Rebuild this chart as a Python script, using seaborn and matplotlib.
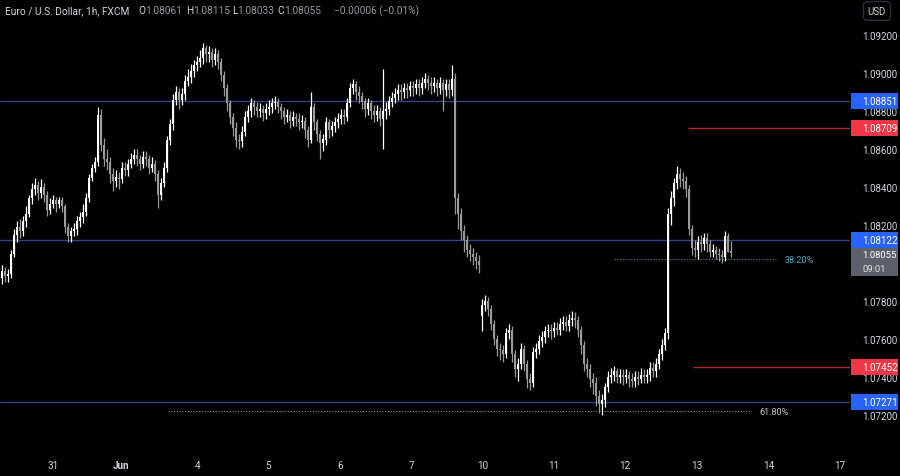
import numpy as np
import matplotlib
matplotlib.use("Agg")
import matplotlib.pyplot as plt
from matplotlib.patches import Rectangle
import seaborn as sns

# ---------------- data (EUR/USD, 1h candles) ----------------
closes = [
    1.0796, 1.0793, 1.0794, 1.0805, 1.0815, 1.0819, 1.0817, 1.0822, 1.0826, 1.0834,
    1.0839, 1.0841, 1.0837, 1.0840, 1.0836, 1.0828, 1.0831, 1.0833, 1.0831, 1.0833,
    1.0830, 1.0819, 1.0814, 1.0817, 1.0818, 1.0822, 1.0824, 1.0827, 1.0834, 1.0845,
    1.0850, 1.0853, 1.0878, 1.0862, 1.0855, 1.0853, 1.0847, 1.0843, 1.0845, 1.0844,
    1.0850, 1.0849, 1.0852, 1.0855, 1.0857, 1.0855, 1.0852, 1.0856, 1.0855, 1.0850,
    1.0852, 1.0847, 1.0836, 1.0842, 1.0850, 1.0865, 1.0873, 1.0886, 1.0890, 1.0886,
    1.0889, 1.0896, 1.0898, 1.0901, 1.0904, 1.0906, 1.0908, 1.0913, 1.0910, 1.0911,
    1.0907, 1.0910, 1.0906, 1.0899, 1.0892, 1.0884, 1.0877, 1.0871, 1.0865, 1.0864,
    1.0869, 1.0877, 1.0880, 1.0884, 1.0882, 1.0880, 1.0881, 1.0879, 1.0881, 1.0882,
    1.0884, 1.0885, 1.0882, 1.0880, 1.0877, 1.0878, 1.0875, 1.0877, 1.0876, 1.0874,
    1.0875, 1.0870, 1.0865, 1.0882, 1.0874, 1.0868, 1.0863, 1.0865, 1.0874, 1.0870,
    1.0872, 1.0874, 1.0876, 1.0878, 1.0877, 1.0884, 1.0892, 1.0894, 1.0890, 1.0888,
    1.0885, 1.0881, 1.0884, 1.0880, 1.0878, 1.0880, 1.0876, 1.0880, 1.0881, 1.0885,
    1.0887, 1.0889, 1.0891, 1.0890, 1.0892, 1.0891, 1.0893, 1.0892, 1.0894, 1.0892,
    1.0895, 1.0897, 1.0895, 1.0893, 1.0895, 1.0892, 1.0895, 1.0891, 1.0894, 1.0891,
    1.0897, 1.0834, 1.0826, 1.0817, 1.0812, 1.0807, 1.0805, 1.0803, 1.0801, 1.0799,
    1.0778, 1.0780, 1.0776, 1.0768, 1.0760, 1.0755, 1.0754, 1.0752, 1.0763, 1.0765,
    1.0752, 1.0744, 1.0747, 1.0755, 1.0747, 1.0739, 1.0737, 1.0753, 1.0755, 1.0759,
    1.0761, 1.0764, 1.0765, 1.0764, 1.0766, 1.0765, 1.0768, 1.0769, 1.0767, 1.0770,
    1.0771, 1.0770, 1.0765, 1.0757, 1.0747, 1.0744, 1.0739, 1.0737, 1.0730, 1.0726,
    1.0728, 1.0735, 1.0740, 1.0741, 1.0743, 1.0740, 1.0741, 1.0740, 1.0741, 1.0739,
    1.0738, 1.0740, 1.0739, 1.0741, 1.0740, 1.0741, 1.0745, 1.0743, 1.0747, 1.0752,
    1.0757, 1.0763, 1.0826, 1.0834, 1.0842, 1.0847, 1.0844, 1.0843, 1.0839, 1.0818,
    1.0808, 1.0807, 1.0811, 1.0810, 1.0813, 1.0810, 1.0806, 1.0807, 1.0805, 1.0804,
    1.0803, 1.0814, 1.0806, 1.08055,
]
highs = [
    1.0799, 1.0798, 1.0797, 1.0807, 1.0818, 1.0822, 1.0823, 1.0825, 1.0830, 1.0836,
    1.0842, 1.0845, 1.0843, 1.0844, 1.0842, 1.0838, 1.0834, 1.0836, 1.0835, 1.0835,
    1.0835, 1.0831, 1.0821, 1.0819, 1.0821, 1.0825, 1.0827, 1.0831, 1.0837, 1.0847,
    1.0852, 1.0856, 1.0882, 1.0881, 1.0866, 1.0860, 1.0856, 1.0850, 1.0849, 1.0848,
    1.0853, 1.0853, 1.0855, 1.0858, 1.0860, 1.0860, 1.0857, 1.0859, 1.0859, 1.0857,
    1.0856, 1.0854, 1.0849, 1.0845, 1.0853, 1.0867, 1.0876, 1.0889, 1.0893, 1.0892,
    1.0892, 1.0899, 1.0902, 1.0905, 1.0907, 1.0909, 1.0912, 1.0916, 1.0915, 1.0914,
    1.0913, 1.0913, 1.0912, 1.0908, 1.0901, 1.0894, 1.0886, 1.0879, 1.0874, 1.0868,
    1.0872, 1.0880, 1.0883, 1.0887, 1.0886, 1.0885, 1.0884, 1.0883, 1.0884, 1.0886,
    1.0887, 1.0888, 1.0887, 1.0884, 1.0882, 1.0881, 1.0880, 1.0880, 1.0879, 1.0879,
    1.0878, 1.0877, 1.0872, 1.0890, 1.0884, 1.0876, 1.0870, 1.0868, 1.0877, 1.0876,
    1.0875, 1.0877, 1.0879, 1.0881, 1.0881, 1.0887, 1.0895, 1.0897, 1.0896, 1.0893,
    1.0890, 1.0887, 1.0887, 1.0886, 1.0883, 1.0883, 1.0882, 1.0902, 1.0885, 1.0888,
    1.0890, 1.0892, 1.0894, 1.0894, 1.0895, 1.0895, 1.0896, 1.0896, 1.0897, 1.0897,
    1.0898, 1.0900, 1.0899, 1.0898, 1.0898, 1.0897, 1.0898, 1.0897, 1.0897, 1.0897,
    1.0904, 1.0900, 1.0837, 1.0829, 1.0820, 1.0815, 1.0810, 1.0808, 1.0806, 1.0804,
    1.0781, 1.0783, 1.0782, 1.0778, 1.0770, 1.0762, 1.0758, 1.0757, 1.0766, 1.0768,
    1.0767, 1.0754, 1.0750, 1.0758, 1.0757, 1.0749, 1.0742, 1.0756, 1.0758, 1.0762,
    1.0764, 1.0767, 1.0768, 1.0768, 1.0769, 1.0769, 1.0771, 1.0772, 1.0772, 1.0773,
    1.0775, 1.0774, 1.0772, 1.0767, 1.0759, 1.0750, 1.0747, 1.0742, 1.0740, 1.0733,
    1.0731, 1.0737, 1.0743, 1.0745, 1.0746, 1.0745, 1.0744, 1.0744, 1.0744, 1.0743,
    1.0742, 1.0743, 1.0743, 1.0745, 1.0744, 1.0744, 1.0748, 1.0748, 1.0750, 1.0755,
    1.0760, 1.0766, 1.0829, 1.0838, 1.0845, 1.0851, 1.0850, 1.0848, 1.0846, 1.0841,
    1.0820, 1.0812, 1.0814, 1.0815, 1.0816, 1.0816, 1.0812, 1.0810, 1.0809, 1.0808,
    1.0807, 1.0817, 1.0816, 1.08115,
]
lows = [
    1.0789, 1.0790, 1.0790, 1.0792, 1.0803, 1.0811, 1.0813, 1.0814, 1.0819, 1.0824,
    1.0831, 1.0836, 1.0833, 1.0834, 1.0832, 1.0825, 1.0826, 1.0829, 1.0827, 1.0829,
    1.0827, 1.0816, 1.0811, 1.0811, 1.0814, 1.0815, 1.0819, 1.0821, 1.0825, 1.0832,
    1.0843, 1.0848, 1.0851, 1.0859, 1.0851, 1.0849, 1.0842, 1.0838, 1.0840, 1.0839,
    1.0842, 1.0846, 1.0846, 1.0850, 1.0852, 1.0851, 1.0849, 1.0850, 1.0851, 1.0847,
    1.0848, 1.0843, 1.0829, 1.0833, 1.0840, 1.0848, 1.0862, 1.0870, 1.0883, 1.0881,
    1.0883, 1.0886, 1.0893, 1.0895, 1.0898, 1.0901, 1.0903, 1.0905, 1.0906, 1.0906,
    1.0903, 1.0904, 1.0902, 1.0896, 1.0888, 1.0880, 1.0873, 1.0867, 1.0861, 1.0860,
    1.0861, 1.0867, 1.0874, 1.0877, 1.0878, 1.0877, 1.0877, 1.0875, 1.0876, 1.0878,
    1.0879, 1.0881, 1.0879, 1.0876, 1.0873, 1.0874, 1.0871, 1.0872, 1.0872, 1.0870,
    1.0871, 1.0866, 1.0861, 1.0863, 1.0870, 1.0864, 1.0855, 1.0859, 1.0862, 1.0866,
    1.0867, 1.0869, 1.0871, 1.0873, 1.0873, 1.0875, 1.0882, 1.0889, 1.0886, 1.0884,
    1.0881, 1.0877, 1.0878, 1.0876, 1.0874, 1.0875, 1.0872, 1.0860, 1.0876, 1.0878,
    1.0882, 1.0884, 1.0886, 1.0886, 1.0887, 1.0887, 1.0888, 1.0888, 1.0889, 1.0888,
    1.0889, 1.0892, 1.0891, 1.0889, 1.0890, 1.0888, 1.0889, 1.0880, 1.0888, 1.0887,
    1.0888, 1.0826, 1.0818, 1.0812, 1.0806, 1.0803, 1.0801, 1.0799, 1.0797, 1.0795,
    1.0764, 1.0775, 1.0772, 1.0765, 1.0757, 1.0751, 1.0749, 1.0748, 1.0750, 1.0760,
    1.0748, 1.0740, 1.0738, 1.0744, 1.0743, 1.0734, 1.0733, 1.0735, 1.0750, 1.0752,
    1.0756, 1.0758, 1.0761, 1.0760, 1.0761, 1.0762, 1.0762, 1.0765, 1.0764, 1.0764,
    1.0767, 1.0766, 1.0761, 1.0752, 1.0743, 1.0740, 1.0735, 1.0731, 1.0725, 1.0721,
    1.0720, 1.0724, 1.0732, 1.0737, 1.0738, 1.0737, 1.0737, 1.0736, 1.0737, 1.0735,
    1.0735, 1.0735, 1.0736, 1.0737, 1.0737, 1.0737, 1.0738, 1.0740, 1.0740, 1.0744,
    1.0749, 1.0754, 1.0760, 1.0820, 1.0830, 1.0839, 1.0840, 1.0839, 1.0835, 1.0815,
    1.0804, 1.0803, 1.0802, 1.0806, 1.0807, 1.0806, 1.0803, 1.0803, 1.0802, 1.0801,
    1.0800, 1.0801, 1.0806, 1.08033,
]
first_open = 1.0792
gap_open_bar = 160          # Monday open after the weekend
gap_open = 1.0772
last_open = 1.08061

day_labels = ["31", "Jun", "4", "5", "6", "7", "10", "11", "12", "13", "14", "17"]
day_start_bar = [17.2, 39.8, 65.2, 88.8, 112.8, 136.5, 160.5, 184.2, 207.8, 231.8, 255.8, 279.5]

blue_levels = [1.08851, 1.08122, 1.07271]
red_levels = [1.08709, 1.07452]
red_level_start_bar = [228.8, 230.5]
fib_levels = [1.0802, 1.0722]
fib_labels = ["38.20%", "61.80%"]
fib_start_bar = [204.0, 55.5]
fib_end_bar = [258.0, 249.5]
# 1.08000 sits behind the last-price label on the price scale, so it is not shown
price_ticks = [1.072, 1.074, 1.076, 1.078, 1.082, 1.084, 1.086, 1.088, 1.090, 1.092]
last_price = 1.08055
countdown = "09:01"

# ---------------- style ----------------
sns.set_theme(style="dark", rc={"axes.facecolor": "black", "figure.facecolor": "black",
                                "axes.grid": False})
plt.rcParams["font.family"] = ["Roboto", "DejaVu Sans"]

TXT = "#d1d4dc"
UP = "#ffffff"
DOWN = "#9a9a9a"
BLUE_LINE = "#363f8c"
BLUE_BOX = "#2962ff"
RED_LINE = "#b0262f"
RED_BOX = "#f23645"

W, H = 900, 477
fig = plt.figure(figsize=(9, 4.77), dpi=100, facecolor="black")
plot_bottom_px = 449
ax = fig.add_axes([0, (H - plot_bottom_px) / H, 850 / W, plot_bottom_px / H])
ax.set_facecolor("black")

px_per_price = 19000.0
ytop = 1.092 + 36 / px_per_price
ybot = 1.092 - (plot_bottom_px - 36) / px_per_price
ax.set_ylim(ybot, ytop)
ax.set_xlim(-0.5, 850 / 3 - 0.5)

c = np.array(closes)
hi = np.array(highs)
lo = np.array(lows)
o = np.concatenate([[first_open], c[:-1]])   # hourly FX bars open at previous close
o[gap_open_bar] = gap_open
o[-1] = last_open
x = np.arange(len(c))
up = c >= o
cols = np.where(up, UP, DOWN)

# levels
for lvl in blue_levels:
    ax.axhline(lvl, color=BLUE_LINE, lw=1.0, zorder=1)
for lvl, xs in zip(red_levels, red_level_start_bar):
    ax.hlines(lvl, xs, 283, color=RED_LINE, lw=1.0, zorder=1)
fib_cols = ["#4a8fa3", "#9a9a9a"]
fib_txt_cols = ["#4fa8c8", "#c8c8c8"]
for lvl, lab, xs, xe, fc, tc in zip(fib_levels, fib_labels, fib_start_bar, fib_end_bar, fib_cols, fib_txt_cols):
    ax.hlines(lvl, xs, xe, color=fc, lw=0.8, linestyles=(0, (1, 1.5)), zorder=1)
    ax.text(xe + 3.2, lvl, lab, color=tc, fontsize=6.5, va="center", ha="left")

# candles
ax.vlines(x, lo, hi, colors=cols, lw=0.9, zorder=3)
body_low = np.minimum(o, c)
body_h = np.maximum(np.abs(c - o), 0.00004)
ax.bar(x, body_h, bottom=body_low, width=0.66, color=cols, linewidth=0, zorder=4)

for s in ax.spines.values():
    s.set_visible(False)
ax.yaxis.tick_right()
ax.set_yticks(price_ticks)
ax.set_yticklabels([f"{p:.5f}" for p in price_ticks])
ax.tick_params(axis="y", length=0, pad=9, labelsize=7, labelcolor=TXT)
ax.set_xticks(day_start_bar)
ax.set_xticklabels(day_labels)
ax.tick_params(axis="x", length=0, pad=9, labelsize=7.2, labelcolor=TXT)
for t in ax.get_xticklabels():
    if t.get_text() == "Jun":
        t.set_fontweight("bold")
ax.grid(False)

# price-scale labels (overlay axis)
ax2 = fig.add_axes([850 / W, (H - plot_bottom_px) / H, 50 / W, plot_bottom_px / H])
ax2.set_xlim(0, 50)
ax2.set_ylim(ybot, ytop)
ax2.axis("off")
ax2.patch.set_visible(False)
bh = 16 / px_per_price
for lvl in blue_levels:
    ax2.add_patch(Rectangle((0.5, lvl - bh / 2), 47.5, bh, color=BLUE_BOX, lw=0))
    ax2.text(12.5, lvl, f"{lvl:.5f}", color="white", fontsize=7, va="center", ha="left")
for lvl in red_levels:
    ax2.add_patch(Rectangle((0.5, lvl - bh / 2), 47.5, bh, color=RED_BOX, lw=0))
    ax2.text(12.5, lvl, f"{lvl:.5f}", color="white", fontsize=7, va="center", ha="left")
gtop = 1.092 - (248.5 - 36) / px_per_price
gbot = 1.092 - (276.5 - 36) / px_per_price
ax2.add_patch(Rectangle((0.5, gbot), 47.5, gtop - gbot, color="#5d606b", lw=0))
ax2.text(12.5, 1.092 - (255.5 - 36) / px_per_price, f"{last_price:.5f}", color="white",
         fontsize=6.8, va="center", ha="left")
ax2.text(12.5, 1.092 - (269.5 - 36) / px_per_price, countdown, color="#e0e0e0",
         fontsize=6.8, va="center", ha="left")

# header
def ftxt(px, py, s, **kw):
    fig.text(px / W, 1 - py / H, s, va="center", ha="left", **kw)

ftxt(5, 11, "Euro / U.S. Dollar, 1h, FXCM", color=TXT, fontsize=7.3)
vals_col = "#9598a1"
for lab, val, xp in [("O", "1.08061", 138), ("H", "1.08115", 186), ("L", "1.08033", 232), ("C", "1.08055", 277)]:
    ftxt(xp, 11, lab, color=TXT, fontsize=7.3)
    ftxt(xp + (7 if lab != "L" else 5.5), 11, val, color=vals_col, fontsize=7.3)
ftxt(334, 11, "\u22120.00006 (\u22120.01%)", color=vals_col, fontsize=7.3)

fig.text(877 / W, 1 - 12 / H, "USD", color=TXT, fontsize=7, ha="center", va="center",
         bbox=dict(boxstyle="round,pad=0.45,rounding_size=0.4", fc="black", ec="#2a2e39", lw=1))

fig.savefig("out.png", dpi=100, facecolor="black")
